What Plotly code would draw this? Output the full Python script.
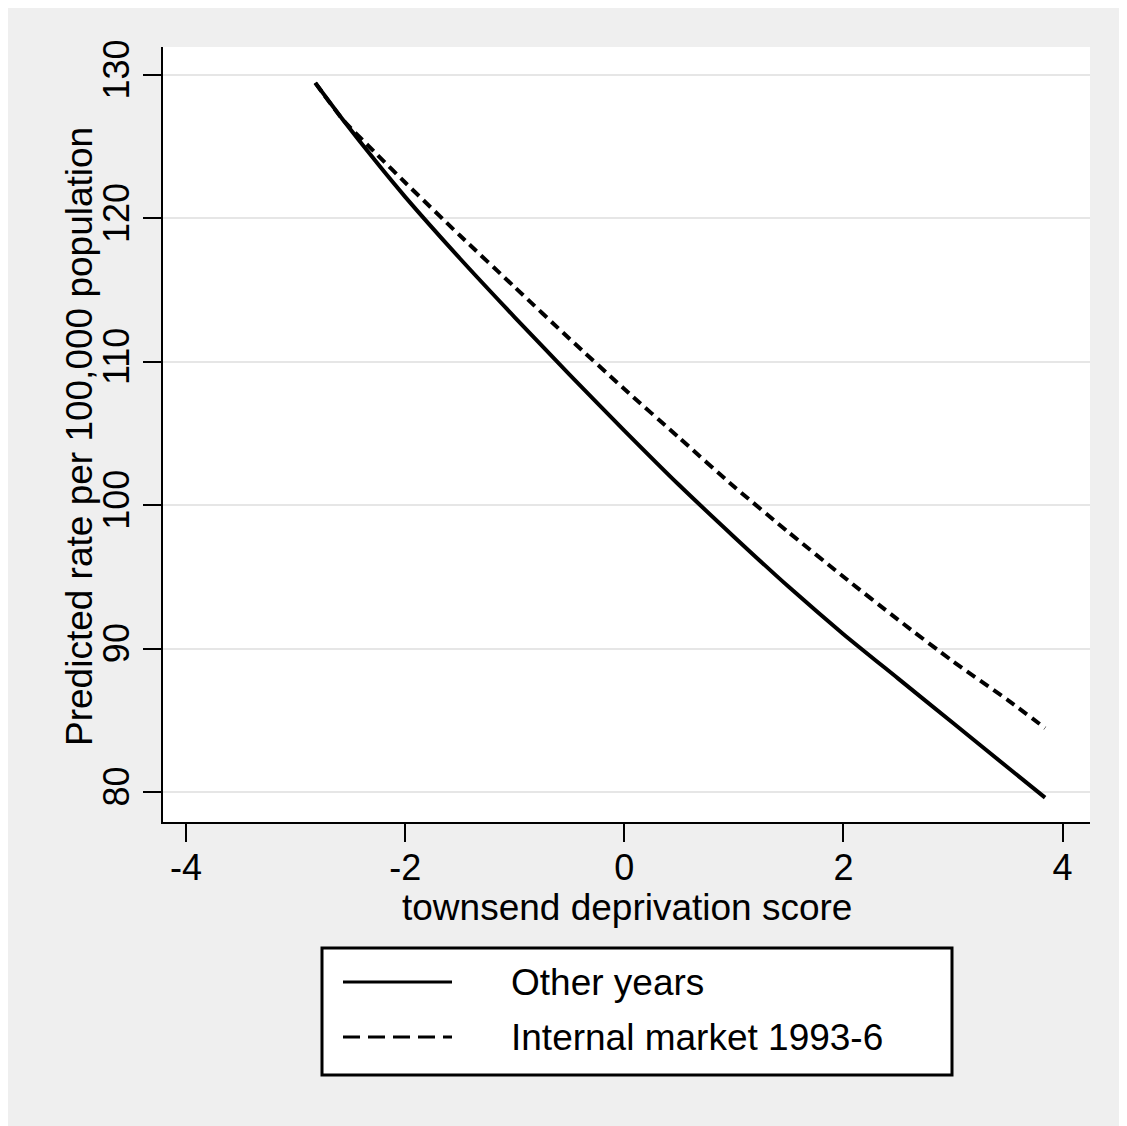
import plotly.graph_objects as go

# Data
x_vals = [-2.82, -2.57, -2.25, -2.0, -1.5, -1.0, -0.5, 0.0, 0.5, 1.0, 1.5, 2.0, 2.5, 3.0, 3.5, 3.84]
other_years = [129.45, 126.9, 123.8, 121.5, 117.2, 113.1, 109.1, 105.2, 101.4, 97.8, 94.3, 91.0, 87.9, 84.8, 81.7, 79.6]
internal_market = [129.45, 126.9, 124.4, 122.5, 118.8, 115.2, 111.6, 108.1, 104.7, 101.3, 98.1, 95.0, 92.0, 89.1, 86.4, 84.45]
series_names = ["Other years", "Internal market 1993-6"]
x_ticks = [-4, -2, 0, 2, 4]
x_tick_text = ["-4", "-2", "0", "2", "4"]
y_ticks = [80, 90, 100, 110, 120, 130]
y_tick_text = ["80", "90", "100", "110", "120", "130"]
x_title = "townsend deprivation score"
y_title = "Predicted rate per 100,000 population"

FONT = "Liberation Sans, Arial, sans-serif"
FS = 37
TFS = 36

fig = go.Figure()
fig.add_trace(go.Scatter(x=x_vals, y=other_years, mode="lines", name=series_names[0],
                         line=dict(color="black", width=4, shape="spline", smoothing=0.6),
                         showlegend=False))
fig.add_trace(go.Scatter(x=x_vals, y=internal_market, mode="lines", name=series_names[1],
                         line=dict(color="black", width=4, dash="10px,6px", shape="spline", smoothing=0.6),
                         showlegend=False))

W, H = 1127, 1126
L, R, T, B = 155, 45, 39, 312
OX, OY = 8, 8  # page offset of the figure
pw, ph = W - L - R, H - T - B


def px2x(px):
    return (px - OX - L) / pw


def py2y(py):
    return (H - B - (py - OY)) / ph


shapes = [
    dict(type="rect", xref="paper", yref="paper",
         x0=px2x(322), x1=px2x(952), y0=py2y(948), y1=py2y(1075),
         line=dict(color="black", width=3), fillcolor="white", layer="above"),
    dict(type="line", xref="paper", yref="paper",
         x0=px2x(343), x1=px2x(452), y0=py2y(982), y1=py2y(982),
         line=dict(color="black", width=3)),
    dict(type="line", xref="paper", yref="paper",
         x0=px2x(343), x1=px2x(452), y0=py2y(1037), y1=py2y(1037),
         line=dict(color="black", width=3, dash="17px,8px")),
]
annotations = [
    dict(xref="paper", yref="paper", x=px2x(509), y=py2y(982), text=series_names[0],
         showarrow=False, xanchor="left", yanchor="middle",
         font=dict(family=FONT, size=FS, color="black")),
    dict(xref="paper", yref="paper", x=px2x(509), y=py2y(1037), text=series_names[1],
         showarrow=False, xanchor="left", yanchor="middle",
         font=dict(family=FONT, size=FS, color="black")),
    dict(xref="paper", yref="paper", x=px2x(80), y=py2y(437), text=y_title,
         textangle=-90, showarrow=False, xanchor="center", yanchor="middle",
         font=dict(family=FONT, size=FS, color="black")),
    dict(xref="paper", yref="paper", x=px2x(627), y=py2y(908), text=x_title,
         showarrow=False, xanchor="center", yanchor="middle",
         font=dict(family=FONT, size=FS, color="black")),
]

fig.update_layout(
    width=W, height=H,
    margin=dict(l=L, r=R, t=T, b=B, pad=0),
    paper_bgcolor="#efefef",
    plot_bgcolor="white",
    font=dict(family=FONT, size=FS, color="black"),
    shapes=shapes,
    annotations=annotations,
    xaxis=dict(range=[-4.21, 4.25], tickvals=x_ticks, ticktext=x_tick_text,
               showgrid=False, zeroline=False,
               showline=True, linecolor="black", linewidth=2,
               ticks="outside", ticklen=18, tickwidth=2, tickcolor="black",
               tickfont=dict(size=TFS), ticklabelstandoff=-5),
    yaxis=dict(range=[77.9, 131.95], tickvals=y_ticks, ticktext=y_tick_text,
               showgrid=True, gridcolor="#e6e6e6",
               gridwidth=2, zeroline=False,
               showline=True, linecolor="black", linewidth=2,
               ticks="outside", ticklen=18, tickwidth=2, tickcolor="black",
               tickangle=-90, tickfont=dict(size=TFS)),
)

fig.write_html("out.html")
